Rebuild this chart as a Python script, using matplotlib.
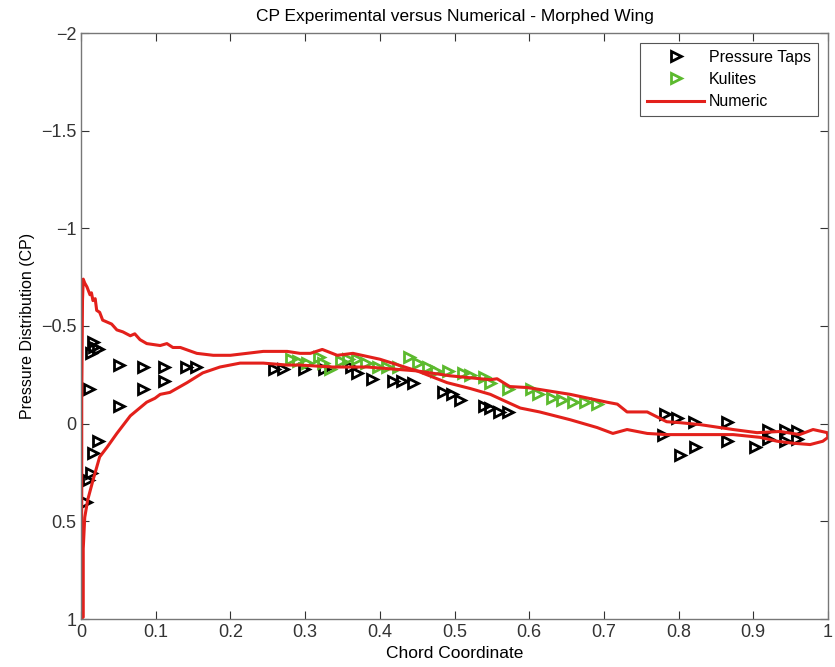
import matplotlib.pyplot as plt

plt.rcParams['font.family'] = ['Liberation Sans', 'DejaVu Sans']

# Pressure taps (black)
taps_x = [0.016, 0.017, 0.023, 0.013, 0.011, 0.051, 0.083, 0.111, 0.111, 0.083,
          0.051, 0.140, 0.154, 0.023, 0.016, 0.013, 0.009, 0.007,
          0.258, 0.270, 0.298, 0.325, 0.361, 0.370, 0.390, 0.418, 0.430, 0.445,
          0.485, 0.497, 0.508, 0.539, 0.548, 0.559, 0.571,
          0.782, 0.798, 0.820, 0.865, 0.779, 0.865, 0.802, 0.822, 0.902,
          0.920, 0.920, 0.942, 0.942, 0.958, 0.958]
taps_cp = [-0.42, -0.39, -0.38, -0.36, -0.18, -0.30, -0.29, -0.29, -0.22, -0.18,
           -0.09, -0.29, -0.29, 0.09, 0.15, 0.25, 0.29, 0.40,
           -0.28, -0.28, -0.28, -0.28, -0.29, -0.26, -0.23, -0.22, -0.22, -0.21,
           -0.16, -0.15, -0.12, -0.09, -0.08, -0.06, -0.06,
           -0.05, -0.03, -0.01, -0.01, 0.06, 0.09, 0.16, 0.12, 0.12,
           0.03, 0.08, 0.03, 0.09, 0.04, 0.08]

# Kulites (green)
kul_x = [0.281, 0.291, 0.303, 0.318, 0.324, 0.334, 0.348, 0.357, 0.370, 0.381,
         0.397, 0.410, 0.424, 0.439, 0.451, 0.464, 0.475, 0.491, 0.511, 0.521,
         0.539, 0.548, 0.571, 0.602, 0.612, 0.631, 0.644, 0.659, 0.675, 0.691]
kul_cp = [-0.33, -0.32, -0.31, -0.34, -0.31, -0.28, -0.32, -0.33, -0.33, -0.31,
          -0.29, -0.29, -0.29, -0.34, -0.31, -0.29, -0.27, -0.27, -0.26, -0.25,
          -0.24, -0.21, -0.18, -0.18, -0.15, -0.13, -0.12, -0.11, -0.11, -0.10]

# Numeric, branch with the leading edge suction peak
num_a_x = [0.0, 0.001, 0.001, 0.002, 0.003, 0.005, 0.008, 0.012, 0.014, 0.016,
           0.019, 0.021, 0.025, 0.029, 0.035, 0.041, 0.048, 0.056, 0.066, 0.072,
           0.079, 0.088, 0.106, 0.115, 0.123, 0.133, 0.155, 0.177, 0.200, 0.244,
           0.276, 0.293, 0.307, 0.323, 0.343, 0.364, 0.400, 0.450, 0.490, 0.521,
           0.548, 0.565, 0.588, 0.614, 0.655, 0.691, 0.712, 0.731, 0.758, 0.784,
           0.829, 0.873, 0.909, 0.932, 0.953, 0.976, 0.993, 1.0]
num_a_cp = [1.0, 0.39, -0.12, -0.63, -0.74, -0.72, -0.70, -0.66, -0.67, -0.63,
            -0.64, -0.58, -0.57, -0.53, -0.52, -0.51, -0.48, -0.47, -0.45, -0.46,
            -0.43, -0.41, -0.40, -0.41, -0.39, -0.39, -0.36, -0.35, -0.35, -0.37,
            -0.37, -0.36, -0.36, -0.38, -0.35, -0.36, -0.33, -0.27, -0.21, -0.18,
            -0.15, -0.12, -0.08, -0.06, -0.02, 0.02, 0.05, 0.03, 0.05, 0.056,
            0.056, 0.056, 0.07, 0.09, 0.10, 0.107, 0.09, 0.07]

# Numeric, other branch
num_b_x = [0.0, 0.003, 0.003, 0.005, 0.009, 0.016, 0.025, 0.035, 0.048, 0.066,
           0.088, 0.099, 0.106, 0.119, 0.142, 0.163, 0.186, 0.213, 0.244, 0.276,
           0.293, 0.337, 0.383, 0.450, 0.494, 0.521, 0.548, 0.557, 0.574, 0.597,
           0.614, 0.655, 0.704, 0.718, 0.731, 0.744, 0.758, 0.784, 0.802, 0.829,
           0.873, 0.905, 0.936, 0.962, 0.980, 0.999, 1.0]
num_b_cp = [1.0, 0.99, 0.64, 0.48, 0.39, 0.29, 0.17, 0.12, 0.05, -0.04,
            -0.11, -0.13, -0.15, -0.16, -0.21, -0.26, -0.29, -0.31, -0.31, -0.30,
            -0.30, -0.29, -0.29, -0.27, -0.245, -0.235, -0.225, -0.23, -0.19, -0.185,
            -0.175, -0.15, -0.11, -0.10, -0.06, -0.06, -0.06, -0.01, -0.005, 0.005,
            0.03, 0.046, 0.04, 0.056, 0.03, 0.046, 0.07]

xticks = [0, 0.1, 0.2, 0.3, 0.4, 0.5, 0.6, 0.7, 0.8, 0.9, 1]
xtick_labels = ['0', '0.1', '0.2', '0.3', '0.4', '0.5', '0.6', '0.7', '0.8', '0.9', '1']
yticks = [-2, -1.5, -1, -0.5, 0, 0.5, 1]
ytick_labels = ['\u22122', '\u22121.5', '\u22121', '\u22120.5', '0', '0.5', '1']

fig = plt.figure(figsize=(8.35, 6.67), dpi=100)
ax = fig.add_axes([81 / 835, 1 - 619 / 667, 747 / 835, 586 / 667])

red = '#e3201b'
green = '#5cba2e'

ax.plot(taps_x, taps_cp, linestyle='none', marker='>', ms=7, mew=2,
        mfc='none', mec='black', label='Pressure Taps')
ax.plot(kul_x, kul_cp, linestyle='none', marker='>', ms=7, mew=2,
        mfc='none', mec=green, label='Kulites')
ax.plot(num_a_x, num_a_cp, color=red, lw=2.2, label='Numeric')
ax.plot(num_b_x, num_b_cp, color=red, lw=2.2)

ax.set_xlim(0, 1)
ax.set_ylim(1, -2)
ax.set_xticks(xticks)
ax.set_xticklabels(xtick_labels)
ax.set_yticks(yticks)
ax.set_yticklabels(ytick_labels)
ax.tick_params(direction='in', length=6, top=True, right=True,
               labelsize=13, colors='#333333', width=0.8)
for s in ax.spines.values():
    s.set_color('#777777')
    s.set_linewidth(1)

ax.set_title('CP Experimental versus Numerical - Morphed Wing', fontsize=12.5, pad=9)
ax.set_xlabel('Chord Coordinate', fontsize=12.5, labelpad=4)
ax.set_ylabel('Pressure Distribution (CP)', fontsize=11.5, labelpad=4)

leg = ax.legend(loc='upper right', fontsize=11.5, fancybox=False,
                framealpha=1, edgecolor='#555555', borderaxespad=0.6,
                handlelength=3.6, labelspacing=0.45, borderpad=0.45,
                handletextpad=0.3)
leg.get_frame().set_linewidth(0.8)

fig.savefig('out.png', dpi=100)
